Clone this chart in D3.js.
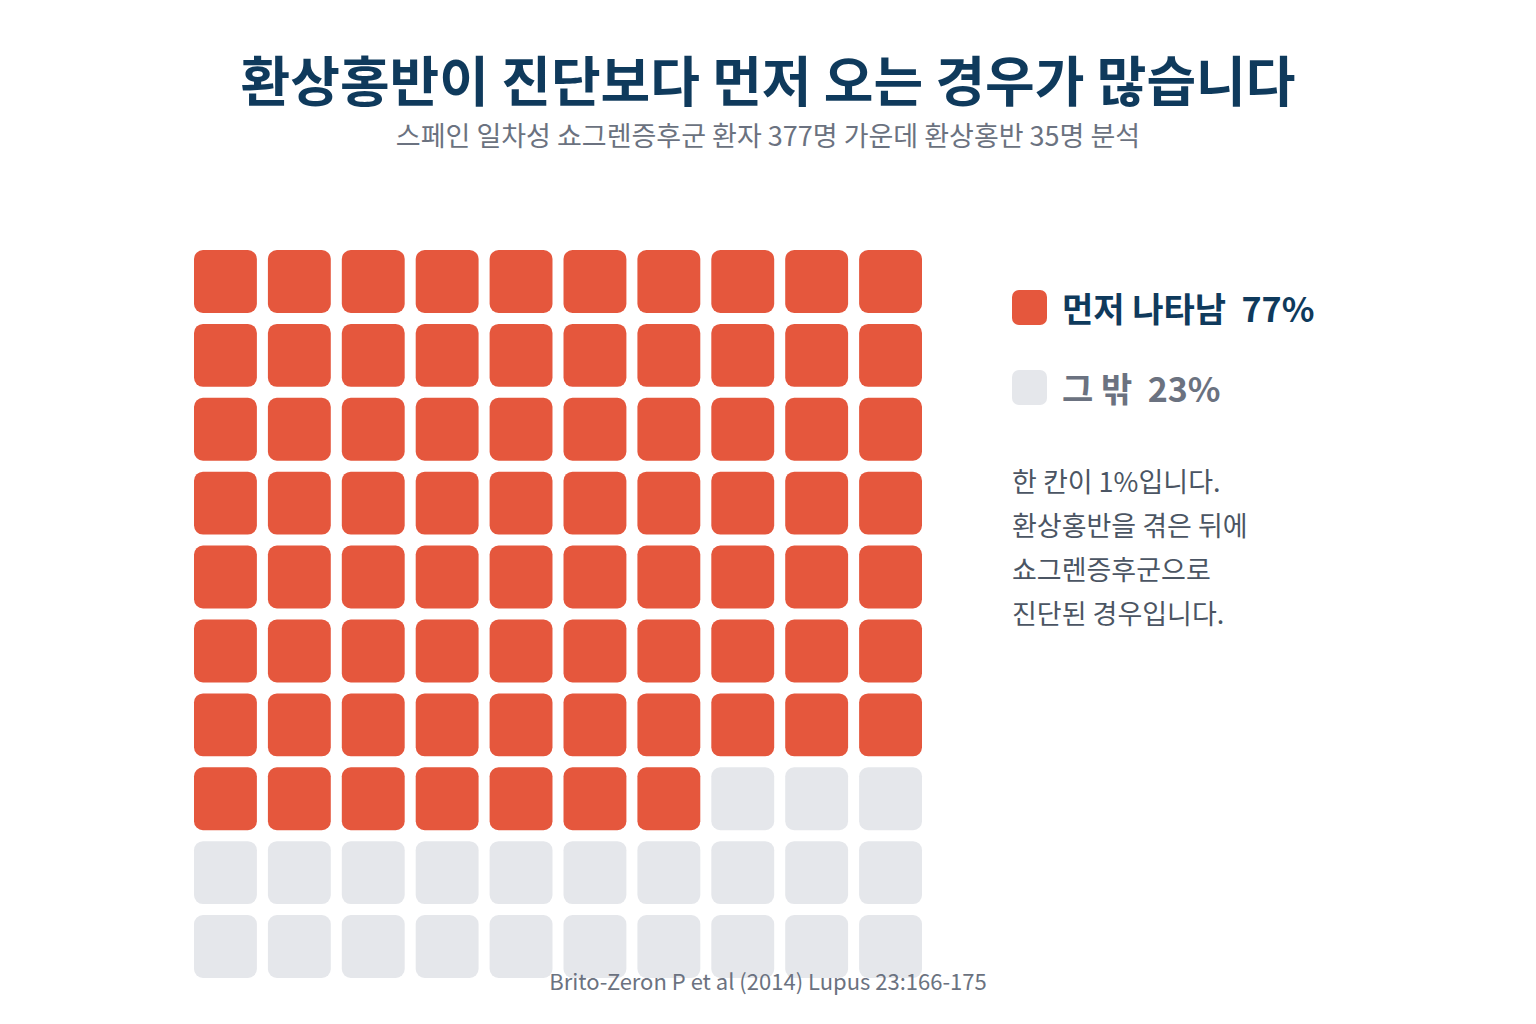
<!DOCTYPE html>
<html>
<head>
<meta charset="utf-8">
<script src="https://cdn.jsdelivr.net/npm/d3@7"></script>
<style>
  body { margin: 0; background: #fff; }
  svg { display: block; font-family: "Noto Sans CJK KR", "Noto Sans", sans-serif; }
</style>
</head>
<body>
<svg id="chart" width="1536" height="1024"></svg>
<script>
// data
const categories = ["먼저 나타남", "그 밖"];
const shares = [77, 23];
const colors = ["#e5573d", "#e5e7eb"];
const labelColors = ["#0f3a5c", "#6b7280"];
const noteLines = ["한 칸이 1%입니다.", "환상홍반을 겪은 뒤에", "쇼그렌증후군으로", "진단된 경우입니다."];

const title = "환상홍반이 진단보다 먼저 오는 경우가 많습니다";
const subtitle = "스페인 일차성 쇼그렌증후군 환자 377명 가운데 환상홍반 35명 분석";
const source = "Brito-Zeron P et al (2014) Lupus 23:166-175";

const svg = d3.select("#chart");

// one cell per percent, row by row
const cells = [];
shares.forEach((n, i) => {
  for (let k = 0; k < n; k++) cells.push({ cat: i });
});
cells.forEach((d, i) => { d.row = Math.floor(i / 10); d.col = i % 10; });

const x = d3.scaleBand().domain(d3.range(10)).range([194, 922]).paddingInner(0.149);
const y = d3.scaleBand().domain(d3.range(10)).range([250, 978]).paddingInner(0.149);

svg.append("text")
  .attr("x", 768).attr("y", 102)
  .attr("text-anchor", "middle")
  .attr("font-size", 54).attr("font-weight", 700)
  .attr("fill", "#0f3a5c")
  .text(title);

svg.append("text")
  .attr("x", 768).attr("y", 146)
  .attr("text-anchor", "middle")
  .attr("font-size", 27)
  .attr("fill", "#6b7280")
  .text(subtitle);

svg.append("g")
  .selectAll("rect")
  .data(cells)
  .join("rect")
  .attr("x", d => x(d.col))
  .attr("y", d => y(d.row))
  .attr("width", x.bandwidth())
  .attr("height", y.bandwidth())
  .attr("rx", 9)
  .attr("fill", d => colors[d.cat]);

// legend
const legend = svg.append("g")
  .selectAll("g")
  .data(categories)
  .join("g")
  .attr("transform", (d, i) => `translate(1012, ${290 + i * 80})`);

legend.append("rect")
  .attr("width", 35).attr("height", 35).attr("rx", 7)
  .attr("fill", (d, i) => colors[i]);

legend.append("text")
  .attr("x", 50).attr("y", 32)
  .attr("font-size", 34).attr("font-weight", 700)
  .attr("fill", (d, i) => labelColors[i])
  .attr("xml:space", "preserve")
  .text((d, i) => `${d}  ${shares[i]}%`);

svg.append("g")
  .selectAll("text")
  .data(noteLines)
  .join("text")
  .attr("x", 1012)
  .attr("y", (d, i) => 492 + i * 44)
  .attr("font-size", 27)
  .attr("fill", "#4b5563")
  .text(d => d);

svg.append("text")
  .attr("x", 768).attr("y", 990)
  .attr("text-anchor", "middle")
  .attr("font-size", 22)
  .attr("fill", "#6b7280")
  .text(source);
</script>
</body>
</html>
